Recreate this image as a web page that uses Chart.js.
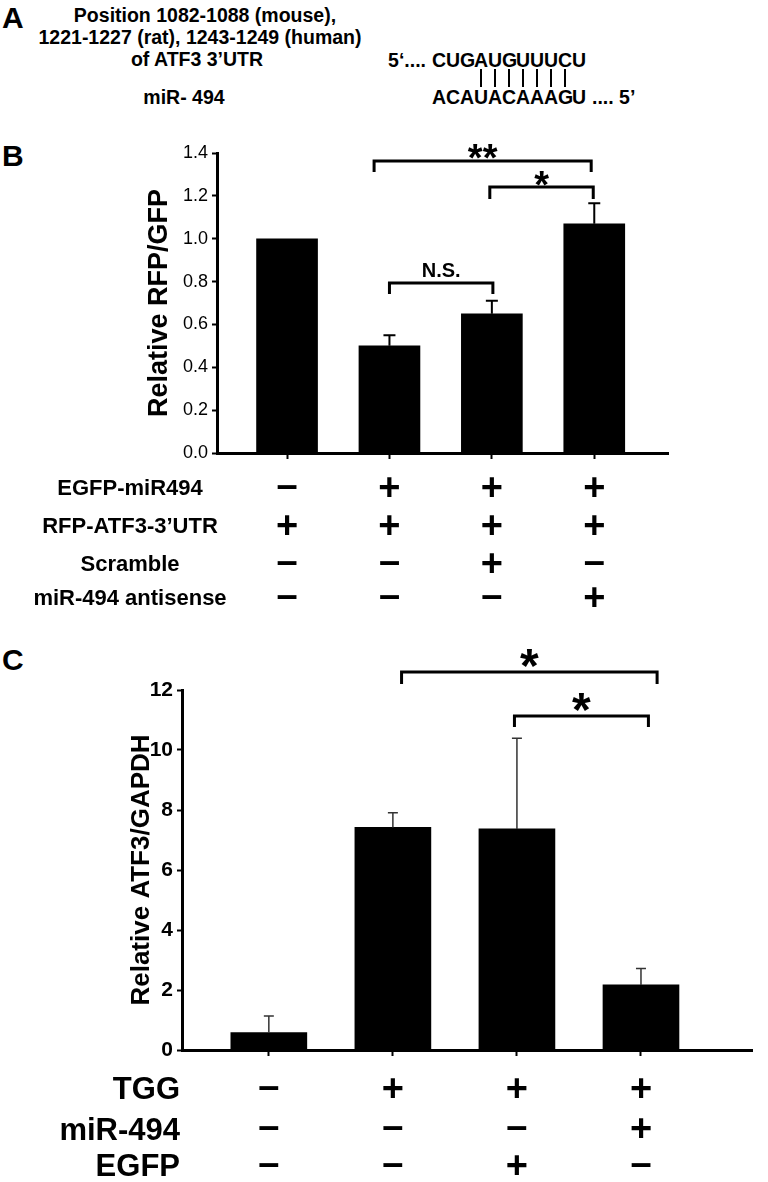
<!DOCTYPE html>
<html>
<head>
<meta charset="utf-8">
<script src="https://cdn.jsdelivr.net/npm/chart.js@4.4.0/dist/chart.umd.min.js"></script>
<style>
  body { margin: 0; background: #fff; }
  #page { position: relative; width: 768px; height: 1182px; overflow: hidden;
          font-family: 'Liberation Sans', Arial, Helvetica, sans-serif; font-weight: bold; color: #000; }
  .t { position: absolute; white-space: nowrap; font-size: 19.5px; line-height: 20px; }
  .mid { transform: translateX(-50%); }
  .lbl { position: absolute; font-size: 30px; line-height: 30px; }
  .seq { position: absolute; width: 14px; text-align: center; font-size: 19.5px; line-height: 20px; }
  .pair { position: absolute; width: 2px; height: 18px; background: #000; }
  canvas { position: absolute; left: 0; }
</style>
</head>
<body>
<div id="page">
  <div class="lbl" style="left:2px;top:3px">A</div>
  <div class="t mid" style="left:205px;top:5px">Position 1082-1088 (mouse),</div>
  <div class="t mid" style="left:200px;top:27px">1221-1227 (rat), 1243-1249 (human)</div>
  <div class="t mid" style="left:197px;top:49px">of ATF3 3’UTR</div>
  <div class="t mid" style="left:184px;top:87px">miR- 494</div>
  <div class="t" style="right:342px;top:50px">5‘....</div>
  <div class="t" style="left:592px;top:87px">.... 5’</div>
  <div id="seqBox"></div>

  <div class="lbl" style="left:2px;top:141px">B</div>
  <canvas id="chartB" width="768" height="480" style="top:130px"></canvas>

  <div class="lbl" style="left:2px;top:645px">C</div>
  <canvas id="chartC" width="768" height="542" style="top:640px"></canvas>
</div>

<script>
// panel A sequences
const seqTarget = 'CUGAUGUUUCU';
const seqMir = 'ACAUACAAAGU';

// panel B
const categories = [0, 1, 2, 3];
const rfpGfp = [1.0, 0.50, 0.65, 1.07];
const rfpGfpErr = [0, 0.05, 0.06, 0.095];
const yTicksB = [0, 0.2, 0.4, 0.6, 0.8, 1.0, 1.2, 1.4];
const rowsB = ['EGFP-miR494', 'RFP-ATF3-3’UTR', 'Scramble', 'miR-494 antisense'];
const signsB = [
  ['–', '+', '+', '+'],
  ['+', '+', '+', '+'],
  ['–', '–', '+', '–'],
  ['–', '–', '–', '+']
];
const bracketsB = [
  { from: 0.85, to: 2.97, y: 1.363, foot: 1.311, mark: '**', markY: 1.405 },
  { from: 1.98, to: 2.99, y: 1.241, foot: 1.185, mark: '*', markY: 1.283 },
  { from: 1.0, to: 2.01, y: 0.793, foot: 0.742, mark: 'N.S.', markY: 0.854 }
];

// panel C
const atf3Gapdh = [0.58, 7.42, 7.37, 2.17];
const atf3Err = [0.55, 0.49, 3.02, 0.55];
const yTicksC = [0, 2, 4, 6, 8, 10, 12];
const rowsC = ['TGG', 'miR-494', 'EGFP'];
const signsC = [
  ['–', '+', '+', '+'],
  ['–', '–', '–', '+'],
  ['–', '–', '+', '–']
];
const bracketsC = [
  { from: 1.07, to: 3.13, y: 12.6, foot: 12.2, mark: '*', markY: 13.07 },
  { from: 1.98, to: 3.06, y: 11.13, foot: 10.77, mark: '*', markY: 11.6 }
];

const FONT = "'Liberation Sans', Arial, Helvetica, sans-serif";
Chart.defaults.font.family = FONT;
Chart.defaults.color = '#000';

// seed pairing in panel A
const seqBox = document.getElementById('seqBox');
const complement = { AU: 1, UA: 1, GC: 1, CG: 1 };
for (let i = 0; i < seqTarget.length; i++) {
  const left = 432 + 14 * i;
  seqBox.insertAdjacentHTML('beforeend',
    `<div class="seq" style="left:${left}px;top:50px">${seqTarget[i]}</div>` +
    `<div class="seq" style="left:${left}px;top:87px">${seqMir[i]}</div>`);
  if (complement[seqTarget[i] + seqMir[i]]) {
    seqBox.insertAdjacentHTML('beforeend', `<div class="pair" style="left:${left + 6}px;top:69px"></div>`);
  }
}

const bracketSet = b => ({
  type: 'line',
  data: [{ x: b.from, y: b.foot }, { x: b.from, y: b.y }, { x: b.to, y: b.y }, { x: b.to, y: b.foot }],
  borderColor: '#000',
  borderWidth: 3,
  pointRadius: 0,
  fill: false,
  tension: 0,
  clip: false,
  borderJoinStyle: 'miter'
});

const inkText = (ctx, text, x, cy) => {
  const m = ctx.measureText(text);
  ctx.fillText(text, x, cy + (m.actualBoundingBoxAscent - m.actualBoundingBoxDescent) / 2);
};

// error bars, significance marks, axis title and the +/- table
const panelPlugin = cfg => ({
  id: 'panel',
  afterDatasetsDraw(chart) {
    const { ctx, scales: { x, y } } = chart;
    const meta = chart.getDatasetMeta(0);
    ctx.save();
    ctx.strokeStyle = cfg.errColor;
    ctx.lineWidth = cfg.errWidth;
    meta.data.forEach((bar, i) => {
      const e = cfg.errors[i];
      if (!e) return;
      const top = y.getPixelForValue(cfg.values[i] + e);
      ctx.beginPath();
      ctx.moveTo(bar.x, bar.y);
      ctx.lineTo(bar.x, top);
      ctx.moveTo(bar.x - cfg.cap / 2, top);
      ctx.lineTo(bar.x + cfg.cap / 2, top);
      ctx.stroke();
    });

    ctx.fillStyle = '#000';
    ctx.textAlign = 'center';
    ctx.textBaseline = 'alphabetic';
    cfg.brackets.forEach(b => {
      const size = b.mark === 'N.S.' ? 20 : cfg.starSize;
      ctx.font = `bold ${size}px ${FONT}`;
      inkText(ctx, b.mark, x.getPixelForValue((b.from + b.to) / 2), y.getPixelForValue(b.markY));
    });
    ctx.restore();
  },
  afterDraw(chart) {
    const { ctx, chartArea, scales: { x } } = chart;
    ctx.save();
    ctx.fillStyle = '#000';

    // y axis title
    ctx.font = `bold ${cfg.titleSize}px ${FONT}`;
    ctx.translate(cfg.titleX, (chartArea.top + chartArea.bottom) / 2);
    ctx.rotate(-Math.PI / 2);
    ctx.textAlign = 'center';
    ctx.textBaseline = 'alphabetic';
    inkText(ctx, cfg.title, 0, 0);
    ctx.setTransform(1, 0, 0, 1, 0, 0);

    cfg.rows.forEach((label, r) => {
      const yy = cfg.rowY[r];
      ctx.font = `bold ${cfg.rowSize}px ${FONT}`;
      ctx.textAlign = cfg.rowAlign;
      inkText(ctx, label, cfg.rowX, yy);
      ctx.font = `bold 38px ${FONT}`;
      ctx.textAlign = 'center';
      cfg.signs[r].forEach((s, c) => {
        inkText(ctx, s, x.getPixelForValue(categories[c]), yy);
      });
    });
    ctx.restore();
  }
});

const axisCommon = {
  border: { display: true, color: '#000', width: 3 },
  grid: { display: true, drawOnChartArea: false, drawTicks: true, tickLength: 5, tickWidth: 2, tickColor: '#000', offset: false }
};

function buildChart(id, o) {
  return new Chart(document.getElementById(id), {
    type: 'bar',
    data: {
      datasets: [
        {
          data: categories.map((c, i) => ({ x: c, y: o.values[i] })),
          backgroundColor: '#000',
          borderWidth: 0,
          barThickness: o.barThickness
        },
        ...o.brackets.map(bracketSet)
      ]
    },
    options: {
      responsive: false,
      animation: false,
      devicePixelRatio: 1,
      layout: { padding: o.padding },
      plugins: { legend: { display: false }, tooltip: { enabled: false } },
      scales: {
        x: {
          type: 'linear',
          min: o.xMin,
          max: o.xMax,
          offset: false,
          ...axisCommon,
          grid: { ...axisCommon.grid, tickLength: 6 },
          ticks: { display: false },
          afterBuildTicks: s => { s.ticks = categories.map(v => ({ value: v })); },
          afterFit: s => { s.height = 8; }
        },
        y: {
          min: 0,
          max: o.yTicks[o.yTicks.length - 1],
          ...axisCommon,
          ticks: {
            padding: 4,
            font: o.tickFont,
            color: '#000',
            callback: o.tickFormat
          },
          afterBuildTicks: s => { s.ticks = o.yTicks.map(v => ({ value: v })); },
          afterFit: s => { s.width = o.yWidth; }
        }
      }
    },
    plugins: [panelPlugin(o)]
  });
}

buildChart('chartB', {
  values: rfpGfp,
  errors: rfpGfpErr,
  yTicks: yTicksB,
  brackets: bracketsB,
  barThickness: 61,
  xMin: -0.684,
  xMax: 3.72,
  yWidth: 217,
  padding: { left: 0, top: 23, right: 100, bottom: 149 },
  tickFont: { family: FONT, size: 18, weight: 'normal' },
  tickFormat: v => v.toFixed(1),
  errColor: '#000', errWidth: 2, cap: 12,
  starSize: 38,
  title: 'Relative RFP/GFP', titleSize: 27, titleX: 157,
  rows: rowsB, signs: signsB, rowY: [357, 395, 433, 467],
  rowX: 130, rowAlign: 'center', rowSize: 22
});

buildChart('chartC', {
  values: atf3Gapdh,
  errors: atf3Err,
  yTicks: yTicksC,
  brackets: bracketsC,
  barThickness: 76,
  xMin: -0.70,
  xMax: 3.895,
  yWidth: 182,
  padding: { left: 0, top: 50, right: 16, bottom: 124 },
  tickFont: { family: FONT, size: 21, weight: 'bold' },
  tickFormat: v => String(v),
  errColor: '#333', errWidth: 1.5, cap: 10,
  starSize: 48,
  title: 'Relative ATF3/GAPDH', titleSize: 26, titleX: 140,
  rows: rowsC, signs: signsC, rowY: [448, 488, 525],
  rowX: 180, rowAlign: 'right', rowSize: 31
});
</script>
</body>
</html>
